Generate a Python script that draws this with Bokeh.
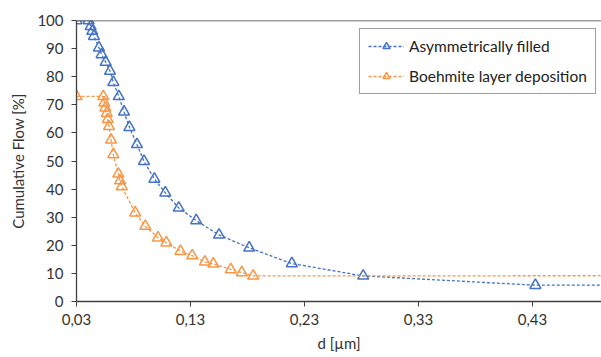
from bokeh.plotting import figure
from bokeh.models import Range1d, FixedTicker, Span, Legend, LegendItem, CustomJSTickFormatter
from bokeh.embed import file_html
from bokeh.resources import INLINE

# Asymmetrically filled
x_asym = [0.03, 0.0406, 0.0424, 0.0438, 0.0453, 0.0497, 0.052, 0.0556, 0.0594, 0.0623,
          0.0671, 0.0717, 0.0764, 0.083, 0.0892, 0.0983, 0.1079, 0.1197, 0.135, 0.155,
          0.1815, 0.2189, 0.2815, 0.4325, 0.53]
y_asym = [100, 100, 97.9, 96.2, 94.4, 90.3, 87.9, 85.2, 82, 78,
          73, 67.5, 62, 55.9, 49.9, 43.6, 38.7, 33.3, 28.8, 23.7,
          19.1, 13.5, 9.1, 5.8, 5.8]

# Boehmite layer deposition
x_boeh = [0.03, 0.0535, 0.0544, 0.0553, 0.0565, 0.0574, 0.0585, 0.0603, 0.0623, 0.0667,
          0.0682, 0.0697, 0.0815, 0.0903, 0.1015, 0.1088, 0.1212, 0.1315, 0.1426, 0.15,
          0.1653, 0.175, 0.185, 0.60]
y_boeh = [73, 73, 70.7, 68.9, 67, 64.8, 62.3, 57.5, 52.3, 45.4,
          43, 40.9, 31.6, 26.8, 22.7, 20.9, 17.9, 16.3, 14.1, 13.4,
          11.4, 10.3, 9.1, 9.2]

x_ticks = [0.03, 0.13, 0.23, 0.33, 0.43]
y_ticks = [0, 10, 20, 30, 40, 50, 60, 70, 80, 90, 100]

BLUE = "#4472C4"
ORANGE = "#F79646"
FONT = "Lato"
AX = "#404040"
TXT = "#333333"

p = figure(width=601, height=357, output_backend="svg", toolbar_location=None,
           x_range=Range1d(0.03, 0.4905), y_range=Range1d(0, 100))
p.min_border_left = 76
p.min_border_top = 20
p.min_border_right = 0
p.min_border_bottom = 56
p.outline_line_color = None
p.grid.visible = False
p.background_fill_color = "white"

p.add_layout(Span(location=100, dimension="width", line_color=AX, line_width=1.3))

l1 = p.line(x_asym, y_asym, line_color=BLUE, line_dash="3 2", line_width=1.3)
s1 = p.scatter(x_asym, y_asym, marker="triangle", size=11, fill_color=None,
               line_color=BLUE, line_width=1.5)
l2 = p.line(x_boeh, y_boeh, line_color=ORANGE, line_dash="3 2", line_width=1.3)
s2 = p.scatter(x_boeh, y_boeh, marker="triangle", size=11, fill_color=None,
               line_color=ORANGE, line_width=1.5)

p.xaxis.ticker = FixedTicker(ticks=x_ticks)
p.xaxis.formatter = CustomJSTickFormatter(code="return tick.toFixed(2).replace('.', ',');")
p.yaxis.ticker = FixedTicker(ticks=y_ticks)
for ax in (p.xaxis[0], p.yaxis[0]):
    ax.axis_line_color = AX
    ax.axis_line_width = 1.3
    ax.major_tick_line_color = AX
    ax.major_tick_out = 5
    ax.major_tick_in = 0
    ax.minor_tick_line_color = None
    ax.major_label_text_font = FONT
    ax.major_label_text_font_size = "15px"
    ax.major_label_text_color = TXT
    ax.axis_label_text_font = FONT
    ax.axis_label_text_font_size = "15px"
    ax.axis_label_text_font_style = "normal"
    ax.axis_label_text_color = TXT
p.xaxis.axis_label = "d [µm]"
p.yaxis.axis_label = "Cumulative Flow [%]"
p.xaxis.major_label_standoff = 7
p.yaxis.major_label_standoff = 8
p.xaxis.axis_label_standoff = 6
p.yaxis.axis_label_standoff = 7

legend = Legend(items=[
    LegendItem(label="Asymmetrically filled", renderers=[l1, s1]),
    LegendItem(label="Boehmite layer deposition", renderers=[l2, s2]),
], location=(283, 207))
legend.label_text_font = FONT
legend.label_text_font_size = "15.5px"
legend.label_text_color = "#222222"
legend.glyph_width = 36
legend.glyph_height = 18
legend.spacing = 12
legend.padding = 8
legend.margin = 0
legend.label_standoff = 5
legend.border_line_color = AX
legend.border_line_width = 1
legend.background_fill_alpha = 1.0
p.add_layout(legend)

open("out.html", "w").write(file_html(p, INLINE))
